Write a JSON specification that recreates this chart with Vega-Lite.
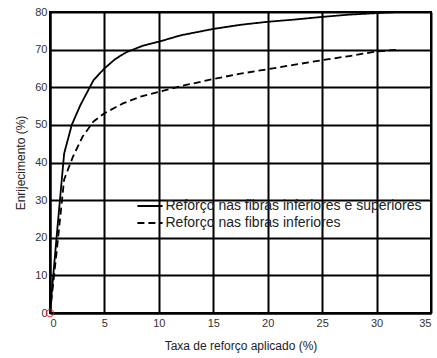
{
  "$schema": "https://vega.github.io/schema/vega-lite/v6.json",
  "width": 381,
  "height": 301,
  "autosize": {"type": "none"},
  "padding": {"left": 50, "top": 12, "right": 6, "bottom": 45},
  "background": "white",
  "config": {
    "font": "Liberation Sans",
    "view": {"stroke": "black", "strokeWidth": 2},
    "axis": {
      "grid": true, "gridColor": "black", "gridWidth": 2, "gridOpacity": 1,
      "domainColor": "black", "domainWidth": 2,
      "ticks": false,
      "labelFont": "Liberation Sans", "labelFontSize": 11, "labelColor": "#333",
      "titleFont": "Liberation Sans", "titleFontSize": 12, "titleFontWeight": "normal", "titleColor": "#222"
    }
  },
  "datasets": {
    "curves": [
      {"serie": "Reforço nas fibras inferiores e superiores", "x": 0, "y": 0},
      {"serie": "Reforço nas fibras inferiores e superiores", "x": 0.6, "y": 20},
      {"serie": "Reforço nas fibras inferiores e superiores", "x": 1.3, "y": 42.4},
      {"serie": "Reforço nas fibras inferiores e superiores", "x": 2, "y": 50},
      {"serie": "Reforço nas fibras inferiores e superiores", "x": 2.8, "y": 55.3},
      {"serie": "Reforço nas fibras inferiores e superiores", "x": 4, "y": 61.9},
      {"serie": "Reforço nas fibras inferiores e superiores", "x": 5, "y": 65},
      {"serie": "Reforço nas fibras inferiores e superiores", "x": 6, "y": 67.5},
      {"serie": "Reforço nas fibras inferiores e superiores", "x": 7, "y": 69.3},
      {"serie": "Reforço nas fibras inferiores e superiores", "x": 8.5, "y": 71},
      {"serie": "Reforço nas fibras inferiores e superiores", "x": 10, "y": 72.1},
      {"serie": "Reforço nas fibras inferiores e superiores", "x": 12, "y": 73.8},
      {"serie": "Reforço nas fibras inferiores e superiores", "x": 15, "y": 75.5},
      {"serie": "Reforço nas fibras inferiores e superiores", "x": 17.5, "y": 76.6},
      {"serie": "Reforço nas fibras inferiores e superiores", "x": 20, "y": 77.4},
      {"serie": "Reforço nas fibras inferiores e superiores", "x": 22.5, "y": 78},
      {"serie": "Reforço nas fibras inferiores e superiores", "x": 25, "y": 78.7},
      {"serie": "Reforço nas fibras inferiores e superiores", "x": 27.5, "y": 79.3},
      {"serie": "Reforço nas fibras inferiores e superiores", "x": 30, "y": 79.7},
      {"serie": "Reforço nas fibras inferiores e superiores", "x": 32, "y": 80},
      {"serie": "Reforço nas fibras inferiores", "x": 0, "y": 0},
      {"serie": "Reforço nas fibras inferiores", "x": 0.6, "y": 16},
      {"serie": "Reforço nas fibras inferiores", "x": 1.3, "y": 35.5},
      {"serie": "Reforço nas fibras inferiores", "x": 2.1, "y": 41.5},
      {"serie": "Reforço nas fibras inferiores", "x": 3, "y": 46.9},
      {"serie": "Reforço nas fibras inferiores", "x": 4, "y": 50.9},
      {"serie": "Reforço nas fibras inferiores", "x": 5, "y": 53.1},
      {"serie": "Reforço nas fibras inferiores", "x": 6.7, "y": 55.7},
      {"serie": "Reforço nas fibras inferiores", "x": 8.3, "y": 57.5},
      {"serie": "Reforço nas fibras inferiores", "x": 10, "y": 58.8},
      {"serie": "Reforço nas fibras inferiores", "x": 12.5, "y": 60.6},
      {"serie": "Reforço nas fibras inferiores", "x": 15, "y": 62.2},
      {"serie": "Reforço nas fibras inferiores", "x": 17.5, "y": 63.6},
      {"serie": "Reforço nas fibras inferiores", "x": 20, "y": 64.8},
      {"serie": "Reforço nas fibras inferiores", "x": 22.5, "y": 66},
      {"serie": "Reforço nas fibras inferiores", "x": 25, "y": 67.2},
      {"serie": "Reforço nas fibras inferiores", "x": 27.5, "y": 68.3},
      {"serie": "Reforço nas fibras inferiores", "x": 30, "y": 69.5},
      {"serie": "Reforço nas fibras inferiores", "x": 32, "y": 70}
    ],
    "origin": [{"x": 0, "y": 0}]
  },
  "encoding": {
    "x": {"field": "x", "type": "quantitative", "title": "Taxa de reforço aplicado (%)",
          "scale": {"domain": [0, 35], "nice": false},
          "axis": {"values": [0, 5, 10, 15, 20, 25, 30, 35], "labelPadding": 4, "titlePadding": 12}},
    "y": {"field": "y", "type": "quantitative", "title": "Enrijecimento (%)",
          "scale": {"domain": [0, 80], "nice": false},
          "axis": {"values": [0, 10, 20, 30, 40, 50, 60, 70, 80], "labelPadding": 3, "titlePadding": 7, "labelOverlap": false}}
  },
  "layer": [
    {
      "data": {"name": "curves"},
      "mark": {"type": "line", "color": "black", "strokeWidth": 1.8, "clip": true},
      "encoding": {
        "strokeDash": {"field": "serie", "type": "nominal",
          "scale": {"domain": ["Reforço nas fibras inferiores e superiores", "Reforço nas fibras inferiores"],
                    "range": [[1, 0], [7, 4]]},
          "legend": {"title": null, "orient": "none", "legendX": 92, "legendY": 186,
                     "symbolType": "M-1.8,0H1.8", "symbolSize": 196, "symbolStrokeWidth": 2,
                     "symbolStrokeColor": "black", "symbolFillColor": "transparent",
                     "labelFontSize": 14, "labelColor": "#222",
                     "labelFont": "Liberation Sans", "labelOffset": 7.5, "rowPadding": 2,
                     "labelLimit": 400}}
      }
    },
    {
      "data": {"name": "origin"},
      "mark": {"type": "point", "shape": "circle", "size": 50, "stroke": "red", "strokeWidth": 1.2, "filled": false}
    }
  ]
}
